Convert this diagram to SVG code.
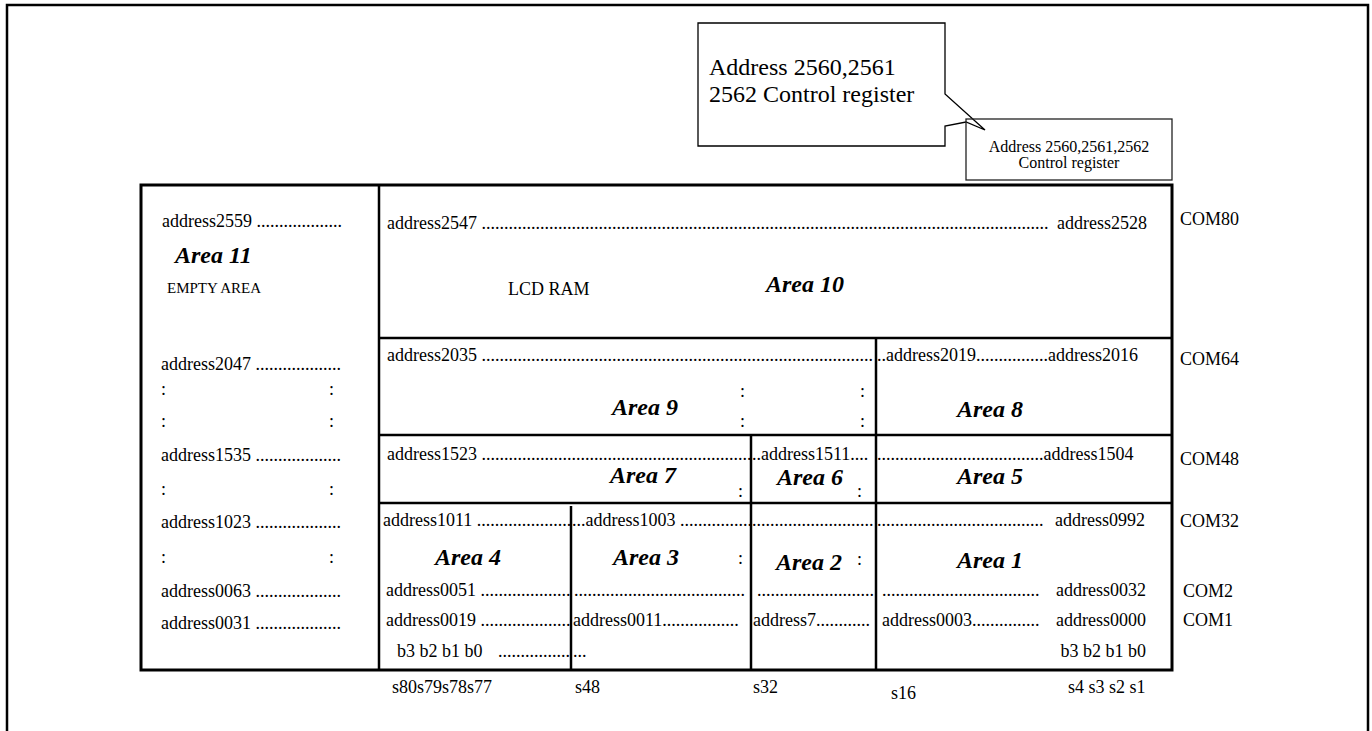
<svg xmlns="http://www.w3.org/2000/svg" width="1372" height="731" viewBox="0 0 1372 731">
<style>
text{font-family:"Liberation Serif","Times New Roman",serif;fill:#000}
.t{font-size:18px}
.s{font-size:15px}
.c{font-size:16px}
.big{font-size:24px}
.area{font-size:24px;font-weight:bold;font-style:italic}
.ln{stroke:#000;stroke-width:2.5;fill:none}
</style>
<rect width="1372" height="731" fill="#fff"/>
<g id="frame"><path d="M7,731 V5 H1368 V731" fill="none" stroke="#000" stroke-width="2.5"/></g>

<g id="callout">
<path d="M698,23 H945 V94 L985,130 L966,122 L945,126 V146 H698 Z" fill="#fff" stroke="#000" stroke-width="1.3"/>
<text class="big" x="709" y="75">Address 2560,2561</text>
<text class="big" x="709" y="102">2562 Control register</text>
</g>
<g id="control-box">
<rect x="966" y="119" width="206" height="61" fill="none" stroke="#222" stroke-width="1.3"/>
<text class="c" x="1069" y="152" text-anchor="middle">Address 2560,2561,2562</text>
<text class="c" x="1069" y="168" text-anchor="middle">Control register</text>
</g>

<g id="connectors">
<rect x="141" y="185" width="1031" height="485" fill="none" stroke="#000" stroke-width="3"/>
<line class="ln" x1="379" y1="185" x2="379" y2="670"/>
<line class="ln" x1="379" y1="338" x2="1172" y2="338"/>
<line class="ln" x1="379" y1="435" x2="1172" y2="435"/>
<line class="ln" x1="379" y1="503" x2="1172" y2="503"/>
<line class="ln" x1="876" y1="338" x2="876" y2="670"/>
<line class="ln" x1="751" y1="435" x2="751" y2="670"/>
<line class="ln" x1="571" y1="506" x2="571" y2="670" stroke-width="2"/>
</g>

<g id="area11">
<text class="t" x="162" y="227">address2559 ...................</text>
<text class="area" x="175" y="263">Area 11</text>
<text class="s" x="167" y="293">EMPTY AREA</text>
<text class="t" x="161" y="370">address2047 ...................</text>
<text class="t" x="161" y="395">:</text><text class="t" x="329" y="395">:</text>
<text class="t" x="161" y="427">:</text><text class="t" x="329" y="427">:</text>
<text class="t" x="161" y="461">address1535 ...................</text>
<text class="t" x="161" y="495">:</text><text class="t" x="329" y="495">:</text>
<text class="t" x="161" y="528">address1023 ...................</text>
<text class="t" x="161" y="563">:</text><text class="t" x="329" y="563">:</text>
<text class="t" x="161" y="597">address0063 ...................</text>
<text class="t" x="161" y="629">address0031 ...................</text>
</g>

<g id="area10">
<text class="t" x="387" y="229">address2547 ..............................................................................................................................</text>
<text class="t" x="1147" y="229" text-anchor="end">address2528</text>
<text class="t" x="508" y="295">LCD RAM</text>
<text class="area" x="766" y="292">Area 10</text>
</g>

<g id="area9">
<text class="t" x="387" y="361">address2035 .......................................................................................</text>
<text class="t" x="740" y="397">:</text><text class="t" x="860" y="397">:</text>
<text class="t" x="740" y="427">:</text><text class="t" x="860" y="427">:</text>
<text class="area" x="612" y="415">Area 9</text>
</g>
<g id="area8">
<text class="t" x="877" y="361">..address2019................address2016</text>
<text class="area" x="957" y="417">Area 8</text>
</g>

<g id="area7">
<text class="t" x="387" y="460">address1523 ............................................................</text>
<text class="area" x="610" y="483">Area 7</text>
<text class="t" x="738" y="497">:</text>
</g>
<g id="area6">
<text class="t" x="752" y="460">..address1511....</text>
<text class="area" x="777" y="485">Area 6</text>
<text class="t" x="857" y="497">:</text>
</g>
<g id="area5">
<text class="t" x="877" y="460">.....................................address1504</text>
<text class="area" x="957" y="484">Area 5</text>
</g>

<g id="area4">
<text class="t" x="383" y="526">address1011 .....................</text>
<text class="area" x="435" y="565">Area 4</text>
<text class="t" x="386" y="596">address0051 ....................</text>
<text class="t" x="386" y="626">address0019 ....................</text>
<text class="t" x="397" y="657">b3 b2 b1 b0</text>
<text class="t" x="498" y="657">................</text>
</g>
<g id="area3">
<text class="t" x="572" y="526">...address1003 ...........................................</text>
<text class="area" x="613" y="565">Area 3</text>
<text class="t" x="738" y="564">:</text>
<text class="t" x="574" y="596">......................................</text>
<text class="t" x="573" y="626">address0011.................</text>
<text class="t" x="573" y="657">...</text>
</g>
<g id="area2">
<text class="area" x="776" y="570">Area 2</text>
<text class="t" x="857" y="565">:</text>
<text class="t" x="757" y="596">..........................</text>
<text class="t" x="753" y="626">address7............</text>
</g>
<g id="area1">
<text class="t" x="877" y="526">.....................................</text>
<text class="t" x="1145" y="526" text-anchor="end">address0992</text>
<text class="area" x="957" y="568">Area 1</text>
<text class="t" x="882" y="596">...................................</text>
<text class="t" x="1146" y="596" text-anchor="end">address0032</text>
<text class="t" x="882" y="626">address0003...............</text>
<text class="t" x="1146" y="626" text-anchor="end">address0000</text>
<text class="t" x="1146" y="657" text-anchor="end">b3 b2 b1 b0</text>
</g>

<g id="com-labels">
<text class="t" x="1180" y="225">COM80</text>
<text class="t" x="1180" y="365">COM64</text>
<text class="t" x="1180" y="465">COM48</text>
<text class="t" x="1180" y="527">COM32</text>
<text class="t" x="1183" y="597">COM2</text>
<text class="t" x="1183" y="626">COM1</text>
</g>

<g id="seg-labels">
<text class="t" x="392" y="693">s80s79s78s77</text>
<text class="t" x="575" y="693">s48</text>
<text class="t" x="753" y="693">s32</text>
<text class="t" x="891" y="699">s16</text>
<text class="t" x="1068" y="693">s4 s3 s2 s1</text>
</g>
</svg>
